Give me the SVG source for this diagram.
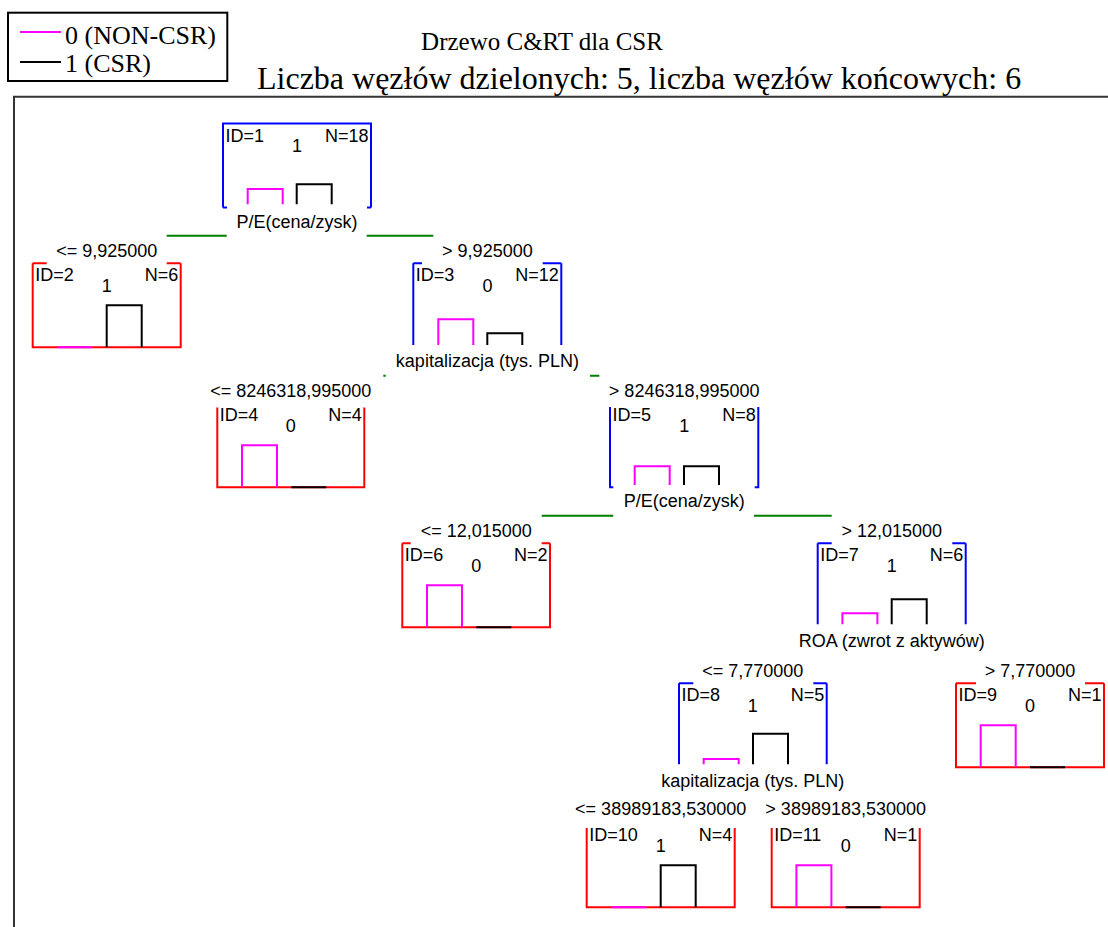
<svg xmlns="http://www.w3.org/2000/svg" width="1108" height="927" viewBox="0 0 1108 927">
<style>
.s{font-family:"Liberation Serif","Times New Roman",serif;font-size:26px;fill:#000}
.st{font-size:25px}
.ss{font-size:32px}
.t{font-family:"Liberation Sans",Arial,sans-serif;font-size:18px;fill:#000}
.m{text-anchor:middle}
.e{text-anchor:end}
.b{fill:none;stroke:#0000ff;stroke-width:2}
.r{fill:none;stroke:#ff0000;stroke-width:2}
.pm{fill:none;stroke:#ff00ff;stroke-width:2}
.pk{fill:none;stroke:#000;stroke-width:2}
.g{fill:none;stroke:#008000;stroke-width:2}
.f{fill:none;stroke:#333;stroke-width:2}
</style>
<rect width="1108" height="927" fill="#fff"/>
<g id="legend">
<rect x="8" y="12.7" width="219.3" height="68.3" fill="none" stroke="#000" stroke-width="2"/>
<line x1="20" y1="32" x2="61" y2="32" class="pm"/>
<line x1="20" y1="62" x2="61" y2="62" class="pk"/>
<text x="65" y="43.5" class="s">0 (NON-CSR)</text>
<text x="65" y="72" class="s">1 (CSR)</text>
</g>
<g id="title">
<text x="542" y="50" class="s st m">Drzewo C&amp;RT dla CSR</text>
<text x="257" y="89" class="s ss">Liczba węzłów dzielonych: 5, liczba węzłów końcowych: 6</text>
</g>
<g id="frame">
<path d="M14 927V96.7H1108" class="f"/>
</g>
<g id="connectors">
<path d="M166.7 235.7H226.7M366.7 235.7H433.3" class="g"/>
<path d="M383.3 375.7H385.7M590 375.7H599.3" class="g"/>
<path d="M541.7 515.7H613.3M754 515.7H831.7" class="g"/>
</g>
<g id="node1">
<path d="M223 207.5V123.5H371V207.5M223 207.5H227M367 207.5H371" class="b"/>
<path d="M247.7 204.3V189H282.7V204.3" class="pm"/>
<path d="M296.7 204.3V184.2H331.7V204.3" class="pk"/>
<text x="225.5" y="141.5" class="t">ID=1</text>
<text x="297" y="151.5" class="t m">1</text>
<text x="368.5" y="141.5" class="t e">N=18</text>
<text x="297" y="227.5" class="t m">P/E(cena/zysk)</text>
</g>
<g id="node2">
<path d="M32.7 263.3H46.7M166.7 263.3H180.7M32.7 263.3V347.3H180.7V263.3" class="r"/>
<path d="M57.3 347.3H92.3" class="pm"/>
<path d="M106.7 347.3V305.3H141.7V347.3" class="pk"/>
<text x="106.8" y="256.7" class="t m">&lt;= 9,925000</text>
<text x="35.2" y="280.5" class="t">ID=2</text>
<text x="106.8" y="291.7" class="t m">1</text>
<text x="178.2" y="280.5" class="t e">N=6</text>
</g>
<g id="node3">
<path d="M413.3 263.3H422M542.7 263.3H561.3M413.3 263.3V345M561.3 263.3V345" class="b"/>
<path d="M438.3 345V319.3H473.3V345" class="pm"/>
<path d="M487.3 345V333.3H522.3V345" class="pk"/>
<text x="487.4" y="256.7" class="t m">&gt; 9,925000</text>
<text x="415.8" y="280.5" class="t">ID=3</text>
<text x="487.4" y="291.7" class="t m">0</text>
<text x="558.8" y="280.5" class="t e">N=12</text>
<text x="487.4" y="367.3" class="t m">kapitalizacja (tys. PLN)</text>
</g>
<g id="node4">
<path d="M217.3 407.5V487.3H364.3V407.5" class="r"/>
<path d="M242 487.3V445.3H277V487.3" class="pm"/>
<path d="M291.3 487.3H326.3" class="pk"/>
<text x="290.8" y="396.7" class="t m">&lt;= 8246318,995000</text>
<text x="219.8" y="420.5" class="t">ID=4</text>
<text x="290.8" y="431.7" class="t m">0</text>
<text x="361.8" y="420.5" class="t e">N=4</text>
</g>
<g id="node5">
<path d="M613.3 487.3H610V407M754.7 487.3H758.3V407" class="b"/>
<path d="M634.7 485V466.3H669.7V485" class="pm"/>
<path d="M684 485V466.3H719V485" class="pk"/>
<text x="684.2" y="396.7" class="t m">&gt; 8246318,995000</text>
<text x="612.5" y="420.5" class="t">ID=5</text>
<text x="684.2" y="431.7" class="t m">1</text>
<text x="755.8" y="420.5" class="t e">N=8</text>
<text x="684.2" y="507.3" class="t m">P/E(cena/zysk)</text>
</g>
<g id="node6">
<path d="M402.3 543.3H410.7M541.7 543.3H550M402.3 543.3V627.3H550V543.3" class="r"/>
<path d="M427 627.3V585.3H462V627.3" class="pm"/>
<path d="M476.3 627.3H511.3" class="pk"/>
<text x="476.2" y="536.7" class="t m">&lt;= 12,015000</text>
<text x="404.8" y="560.5" class="t">ID=6</text>
<text x="476.2" y="571.7" class="t m">0</text>
<text x="547.5" y="560.5" class="t e">N=2</text>
</g>
<g id="node7">
<path d="M817.7 543.3H831.7M952.3 543.3H965.7M817.7 543.3V624.3M965.7 543.3V624.3" class="b"/>
<path d="M842.4 624.3V613.3H877.4V624.3" class="pm"/>
<path d="M891.7 624.3V599.3H926.7V624.3" class="pk"/>
<text x="891.7" y="536.7" class="t m">&gt; 12,015000</text>
<text x="820.2" y="560.5" class="t">ID=7</text>
<text x="891.7" y="571.7" class="t m">1</text>
<text x="963.2" y="560.5" class="t e">N=6</text>
<text x="891.7" y="647.3" class="t m">ROA (zwrot z aktywów)</text>
</g>
<g id="node8">
<path d="M679 683.3H693.3M813.3 683.3H826.7M679 683.3V764.3M826.7 683.3V764.3" class="b"/>
<path d="M703.7 764.3V758.9H738.7V764.3" class="pm"/>
<path d="M753 764.3V733.7H788V764.3" class="pk"/>
<text x="752.8" y="676.7" class="t m">&lt;= 7,770000</text>
<text x="681.5" y="700.5" class="t">ID=8</text>
<text x="752.8" y="711.7" class="t m">1</text>
<text x="824.2" y="700.5" class="t e">N=5</text>
<text x="752.8" y="787.3" class="t m">kapitalizacja (tys. PLN)</text>
</g>
<g id="node9">
<path d="M956 683.3H976M1085 683.3H1104M956 683.3V767.3H1104V683.3" class="r"/>
<path d="M980.7 767.3V725.3H1015.7V767.3" class="pm"/>
<path d="M1030 767.3H1065" class="pk"/>
<text x="1030" y="676.7" class="t m">&gt; 7,770000</text>
<text x="958.5" y="700.5" class="t">ID=9</text>
<text x="1030" y="711.7" class="t m">0</text>
<text x="1101.5" y="700.5" class="t e">N=1</text>
</g>
<g id="node10">
<path d="M586.7 828V907.3H734.7V828" class="r"/>
<path d="M611.4 907.3H646.4" class="pm"/>
<path d="M660.7 907.3V865.3H695.7V907.3" class="pk"/>
<text x="660.7" y="815" class="t m">&lt;= 38989183,530000</text>
<text x="589.2" y="840.5" class="t">ID=10</text>
<text x="660.7" y="851.7" class="t m">1</text>
<text x="732.2" y="840.5" class="t e">N=4</text>
</g>
<g id="node11">
<path d="M771.7 828V907.3H919.7V828" class="r"/>
<path d="M796.4 907.3V865.3H831.4V907.3" class="pm"/>
<path d="M845.7 907.3H880.7" class="pk"/>
<text x="845.7" y="815" class="t m">&gt; 38989183,530000</text>
<text x="774.2" y="840.5" class="t">ID=11</text>
<text x="845.7" y="851.7" class="t m">0</text>
<text x="917.2" y="840.5" class="t e">N=1</text>
</g>
</svg>
